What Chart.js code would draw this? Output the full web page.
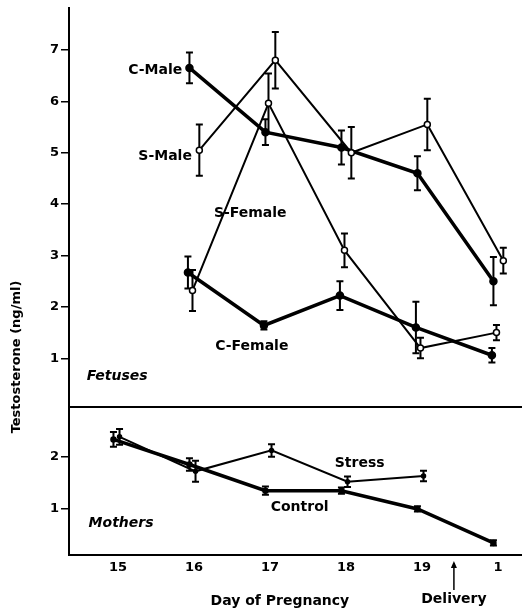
<!DOCTYPE html>
<html><head><meta charset="utf-8">
<script src="https://cdn.jsdelivr.net/npm/chart.js@4/dist/chart.umd.min.js"></script>
<style>
html,body{margin:0;padding:0;background:#fff;}
#wrap{position:relative;width:522px;height:614px;overflow:hidden;}
#topC,#botC{position:absolute;left:0;top:0;}
</style></head><body>
<div id="wrap">
<canvas id="topC" width="522" height="407"></canvas>
<canvas id="botC" width="522" height="614"></canvas>
</div>
<script>
// ---------- data ----------
const days = ['15','16','17','18','19','1'];
const fetusTicks = [1,2,3,4,5,6,7];
const motherTicks = [1,2];

const cMale      = [null, 6.65, 5.4, 5.1, 4.6, 2.5];
const cMaleErr   = [null, 0.3, 0.25, 0.33, 0.33, 0.47];
const sMale      = [null, 5.05, 6.8, 5.0, 5.55, 2.9];
const sMaleErr   = [null, 0.5, 0.55, 0.5, 0.5, 0.25];
const sFemale    = [null, 2.32, 5.96, 3.1, 1.2, 1.5];
const sFemaleErr = [null, 0.4, 0.58, 0.33, 0.2, 0.15];
const cFemale    = [null, 2.67, 1.64, 2.22, 1.6, 1.06];
const cFemaleErr = [null, 0.31, 0.08, 0.28, 0.5, 0.14];

const control    = [2.33, 1.85, 1.35, 1.35, 1.0, 0.35];
const controlErr = [0.14, 0.12, 0.08, 0.06, 0.05, 0.05];
const stress     = [2.38, 1.72, 2.12, 1.52, 1.63, null];
const stressErr  = [0.15, 0.2, 0.12, 0.1, 0.1, null];

// ---------- helpers ----------
const FONT = 'DejaVu Sans';
function pts(values, errors, offset) {
  const out = [];
  values.forEach((v, i) => { if (v != null) out.push({x: i + offset, y: v, err: errors[i]}); });
  return out;
}
function ds(label, values, errors, offset, lw, open, r) {
  return {
    label, data: pts(values, errors, offset),
    borderColor: '#000', borderWidth: lw,
    pointRadius: r, pointBorderWidth: 1.5,
    pointBackgroundColor: open ? '#fff' : '#000', pointBorderColor: '#000',
    showLine: true, tension: 0, fill: false, spanGaps: true
  };
}

const errorBars = {
  id: 'errorBars',
  beforeDatasetsDraw(chart) {
    const ctx = chart.ctx, ys = chart.scales.y;
    chart.data.datasets.forEach((d, di) => {
      const meta = chart.getDatasetMeta(di);
      meta.data.forEach((el, i) => {
        const p = d.data[i];
        if (!p || p.err == null) return;
        const x = el.x;
        const y1 = ys.getPixelForValue(p.y + p.err), y2 = ys.getPixelForValue(p.y - p.err);
        ctx.save();
        ctx.strokeStyle = '#000'; ctx.lineWidth = 2;
        ctx.beginPath();
        ctx.moveTo(x, y1); ctx.lineTo(x, y2);
        ctx.moveTo(x - 3.5, y1); ctx.lineTo(x + 3.5, y1);
        ctx.moveTo(x - 3.5, y2); ctx.lineTo(x + 3.5, y2);
        ctx.stroke();
        ctx.restore();
      });
    });
  }
};

const annot = {
  id: 'annot',
  afterDatasetsDraw(chart, args, opts) {
    const ctx = chart.ctx, xs = chart.scales.x, ys = chart.scales.y;
    (opts.items || []).forEach(it => {
      ctx.save();
      ctx.fillStyle = '#000';
      ctx.font = (it.italic ? 'italic ' : '') + 'bold 14px "' + FONT + '"';
      ctx.textAlign = 'center'; ctx.textBaseline = 'middle';
      ctx.fillText(it.text, xs.getPixelForValue(it.x), ys.getPixelForValue(it.y));
      ctx.restore();
    });
  }
};

const extras = {
  id: 'extras',
  afterDraw(chart) {
    const ctx = chart.ctx, a = chart.chartArea, xs = chart.scales.x;
    ctx.save();
    ctx.strokeStyle = '#000'; ctx.fillStyle = '#000';
    // divider between panels
    ctx.lineWidth = 2;
    ctx.beginPath(); ctx.moveTo(a.left, a.top); ctx.lineTo(a.right, a.top); ctx.stroke();
    // y axis title
    ctx.save();
    ctx.translate(17, 357); ctx.rotate(-Math.PI / 2);
    ctx.font = 'bold 13px "' + FONT + '"';
    ctx.textAlign = 'center'; ctx.textBaseline = 'middle';
    ctx.fillText('Testosterone (ng/ml)', 0, 0);
    ctx.restore();
    // x axis title
    ctx.font = 'bold 14px "' + FONT + '"';
    ctx.textAlign = 'center'; ctx.textBaseline = 'middle';
    ctx.fillText('Day of Pregnancy', xs.getPixelForValue(2.13), a.bottom + 46);
    // delivery arrow
    const dx = xs.getPixelForValue(4.42);
    ctx.lineWidth = 1.5;
    ctx.beginPath(); ctx.moveTo(dx, a.bottom + 8); ctx.lineTo(dx, a.bottom + 35); ctx.stroke();
    ctx.beginPath(); ctx.moveTo(dx, a.bottom + 6); ctx.lineTo(dx - 3, a.bottom + 13); ctx.lineTo(dx + 3, a.bottom + 13); ctx.closePath(); ctx.fill();
    ctx.fillText('Delivery', dx, a.bottom + 44);
    ctx.restore();
  }
};

function xScale(display) {
  const s = {
    type: 'linear', min: -0.645, max: 5.316, display,
    afterBuildTicks: s => { s.ticks = days.map((d, i) => ({value: i})); },
    ticks: {callback: v => days[v], color: '#000', font: {family: FONT, weight: 'bold', size: 13}, padding: 5, maxRotation: 0, autoSkip: false},
    grid: {display: false, drawTicks: false},
    border: {display: display, color: '#000', width: 2}
  };
  if (display) s.afterFit = sc => { sc.height = 59; sc.paddingLeft = 0; sc.paddingRight = 0; };
  return s;
}
function yScale(min, max, tickVals) {
  return {
    type: 'linear', min, max,
    afterBuildTicks: s => { s.ticks = tickVals.map(v => ({value: v})); },
    afterFit: s => { s.width = 69; s.paddingTop = 0; s.paddingBottom = 0; },
    ticks: {color: '#000', font: {family: FONT, weight: 'bold', size: 13}, padding: 2},
    grid: {display: true, drawOnChartArea: false, drawTicks: true, tickLength: 8, color: '#000', lineWidth: 1.5},
    border: {display: true, color: '#000', width: 2}
  };
}
const common = {
  responsive: false, animation: false, devicePixelRatio: 1,
  events: []
};

new Chart(document.getElementById('topC'), {
  type: 'scatter',
  data: {datasets: [
    ds('S-Male', sMale, sMaleErr, 0.07, 2, true, 3),
    ds('S-Female', sFemale, sFemaleErr, -0.02, 2, true, 3),
    ds('C-Male', cMale, cMaleErr, -0.06, 3.5, false, 3.5),
    ds('C-Female', cFemale, cFemaleErr, -0.08, 3.5, false, 3.5)
  ]},
  options: Object.assign({}, common, {
    layout: {autoPadding: false, padding: {top: 8, left: 0, right: 0, bottom: 0}},
    scales: {x: xScale(false), y: yScale(0.053, 7.815, fetusTicks)},
    plugins: {
      legend: {display: false}, tooltip: {enabled: false},
      annot: {items: [
        {text: 'C-Male', x: 0.49, y: 6.61},
        {text: 'S-Male', x: 0.62, y: 4.93},
        {text: 'S-Female', x: 1.74, y: 3.82},
        {text: 'C-Female', x: 1.76, y: 1.23},
        {text: 'Fetuses', x: -0.01, y: 0.65, italic: true}
      ]}
    }
  }),
  plugins: [errorBars, annot]
});

new Chart(document.getElementById('botC'), {
  type: 'scatter',
  data: {datasets: [
    ds('Stress', stress, stressErr, 0.02, 2, false, 2),
    ds('Control', control, controlErr, -0.06, 3.5, false, 2.5)
  ]},
  options: Object.assign({}, common, {
    layout: {autoPadding: false, padding: {top: 407, left: 0, right: 0, bottom: 0}},
    scales: {x: xScale(true), y: yScale(0.12, 2.95, motherTicks)},
    plugins: {
      legend: {display: false}, tooltip: {enabled: false},
      annot: {items: [
        {text: 'Mothers', x: 0.04, y: 0.73, italic: true},
        {text: 'Stress', x: 3.18, y: 1.88},
        {text: 'Control', x: 2.39, y: 1.04}
      ]}
    }
  }),
  plugins: [errorBars, annot, extras]
});
</script>
</body></html>
